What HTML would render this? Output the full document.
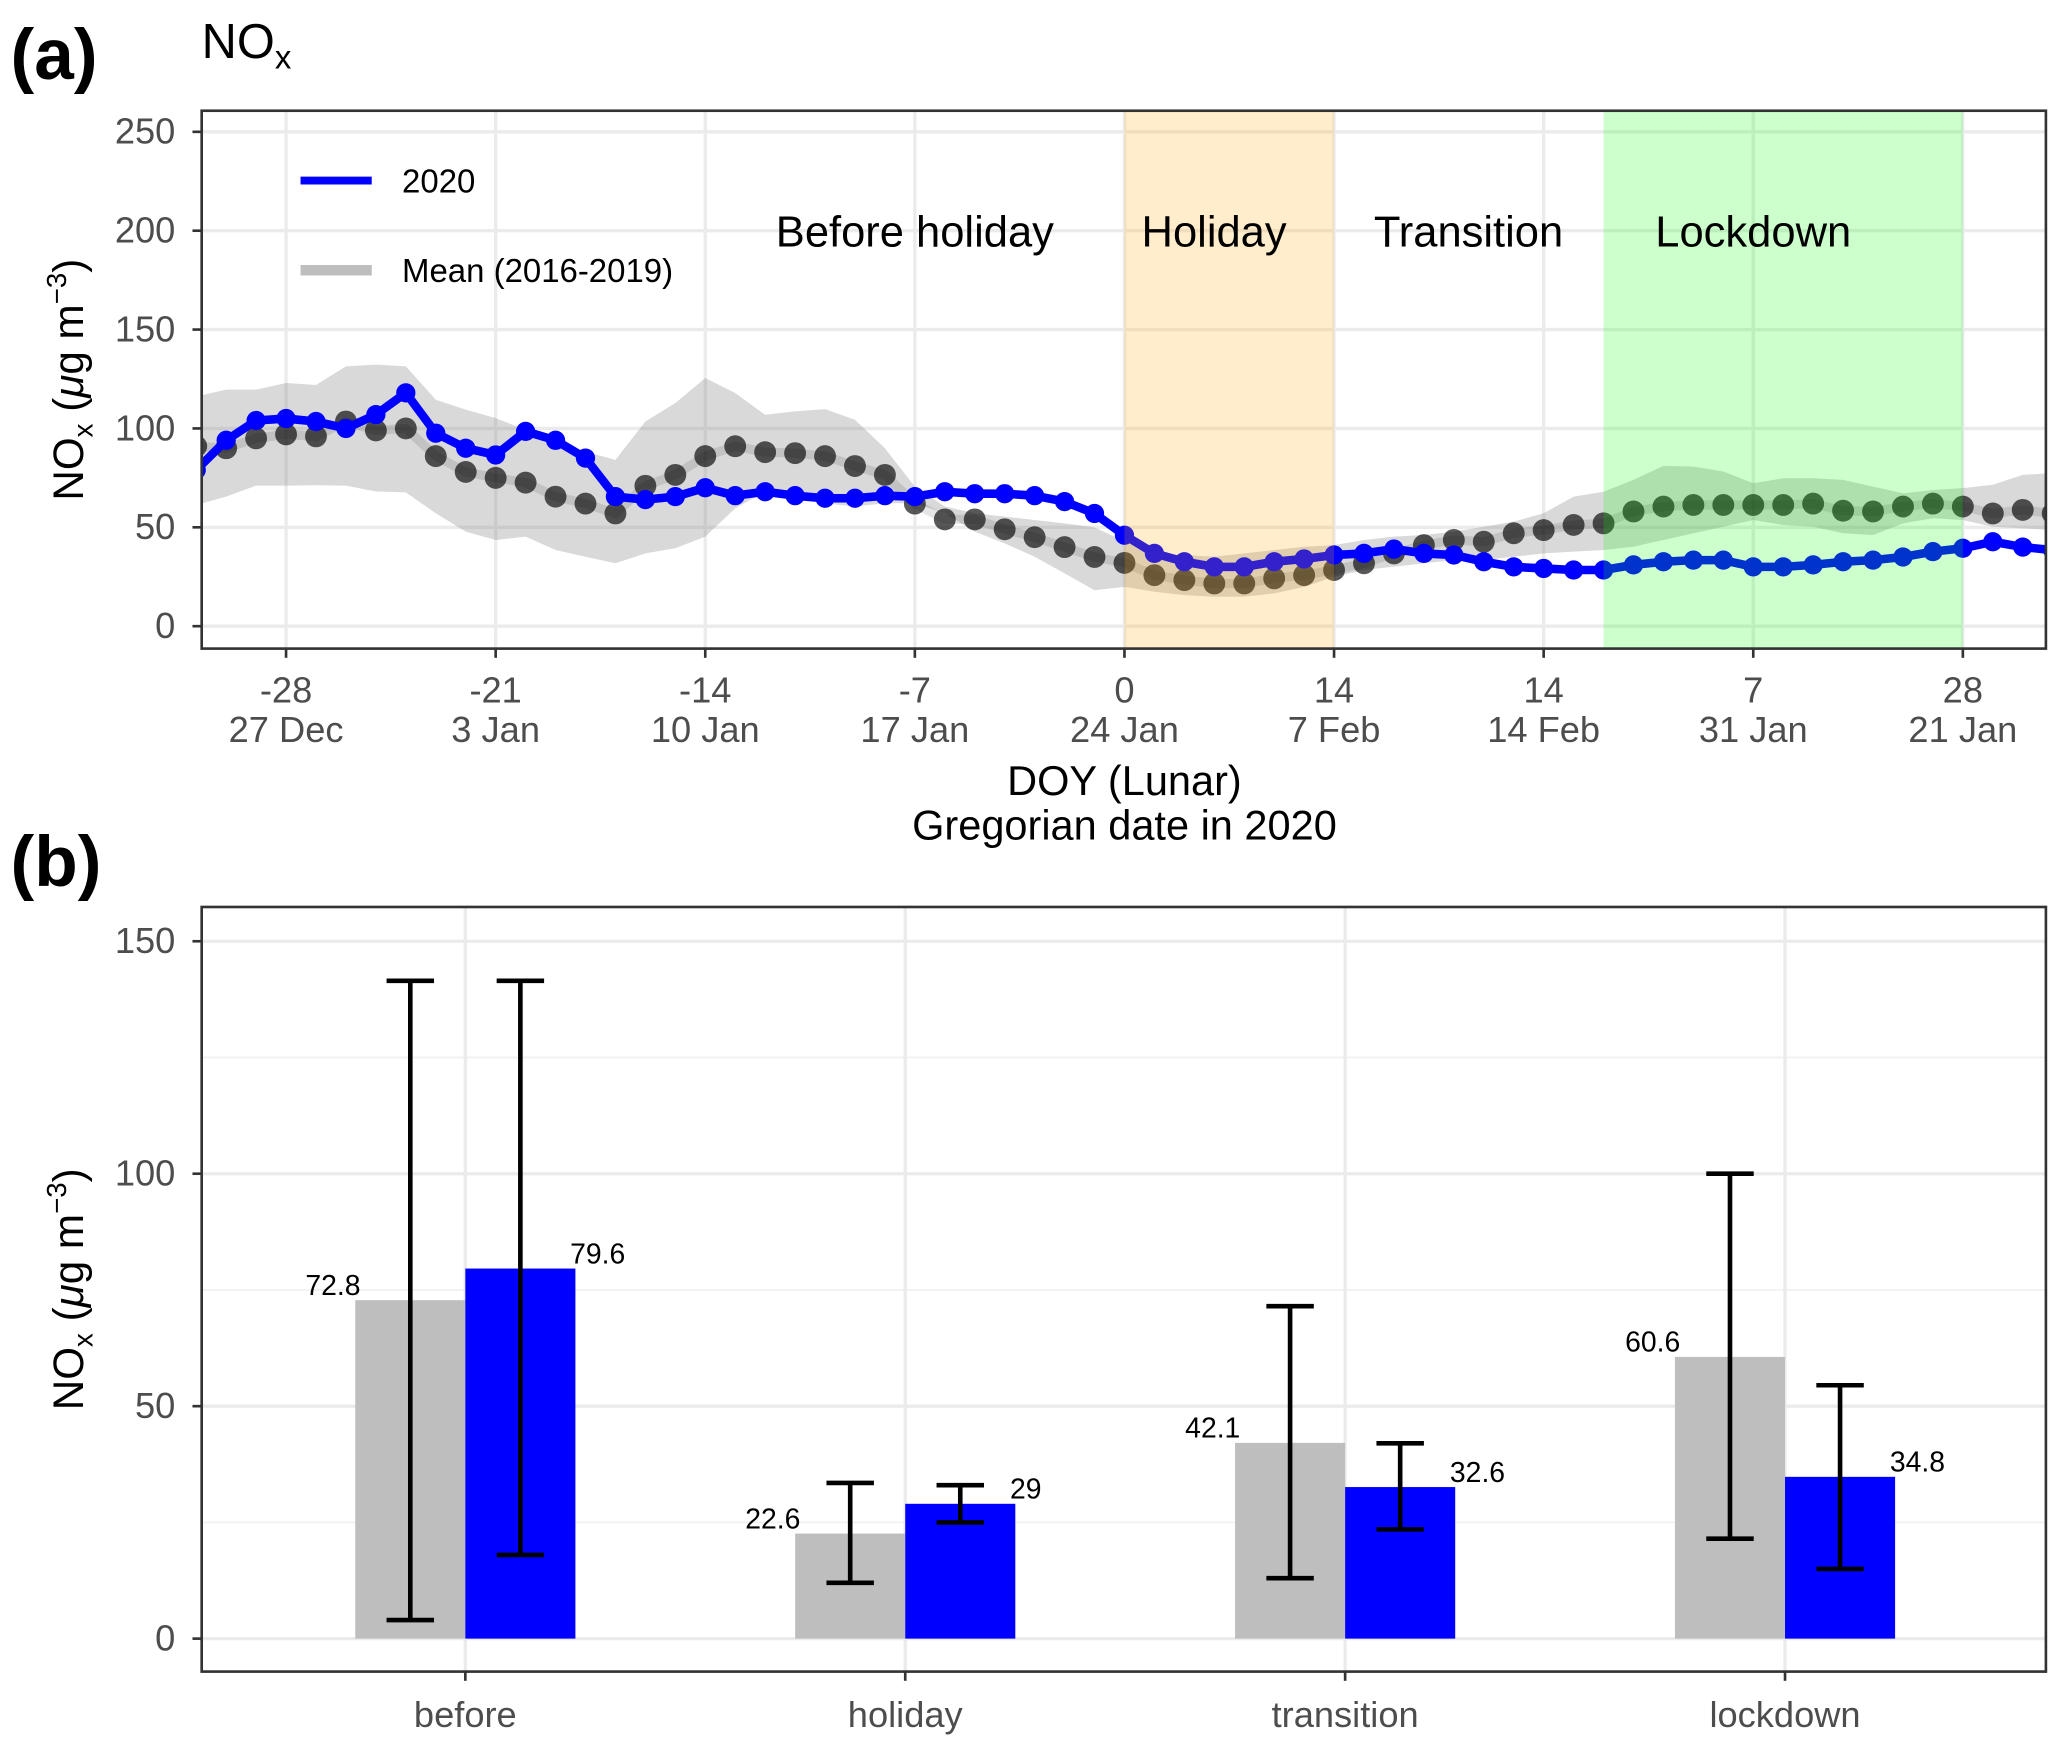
<!DOCTYPE html>
<html><head><meta charset="utf-8"><style>
html,body{margin:0;padding:0;background:#fff}
svg{display:block;font-family:"Liberation Sans",sans-serif}
</style></head><body>
<svg id="fig" width="2067" height="1752" viewBox="0 0 1568 1329" preserveAspectRatio="none" xmlns="http://www.w3.org/2000/svg">
<g id="pa"></g>
<g id="pb"></g>
</svg>
<script>
// ---- Panel A data ----
const days = [];
for (let d = -31; d <= 31; d++) days.push(d);
const meanVals = [91,90,95,97,96,103.5,99,100,86,78,75,72.6,65.5,62,57,71,76.5,86,91,88,87.5,86,81,76.5,62,54,54,49,45,40,35,32,
 25.8,23.3,21.6,21.6,24.2,25.8,28.4,31.8,36.8,41,43.6,42.7,47,48.6,51.2,52,58,60.5,61.3,61.3,61.3,61.3,62,58.4,58,60.5,62,60.5,57,58.8,57];
const ribbonUpper = [116.2,119.6,119.6,123,122,131.4,132.3,131.4,114.5,109.5,105.2,99.3,92.6,88.3,84.1,103.5,112.8,125.5,117.9,106.9,108.6,109.8,104.4,90,70.6,60.5,57.1,55.4,53.7,52,50,43,
 36.8,36,35.1,36.8,38.5,40.2,41,43.6,45.3,46.1,47.8,50.3,52.9,57.1,65.5,68,74,81.1,80.7,78.2,72.3,74.8,74.8,74,70.6,67.2,68.9,69.8,71.5,76.5,77.4];
const ribbonLower = [61.3,65.5,71.1,71.1,71.3,71.1,68.1,67.7,57.1,47.8,43.6,45.3,38.5,35.1,31.8,36.8,39.4,45.3,59.6,68.1,63.9,62.2,60.5,62.2,62.2,57.1,47.8,41.9,35.1,26.7,18.2,19.9,
 17.4,15.7,14.9,14.9,16.6,19.9,25,28.4,30.1,31.8,33.4,33.4,35.1,36.8,37.7,38.5,40.2,43.6,47,50.3,53.7,51.2,50.3,47,46.1,52,54.6,53.7,50.3,49.5,48.6];
const vals2020 = [79,94,104,105,103.5,100,107,118,97.6,90,86.6,98.5,94,85,65.5,64,65.5,70,66,68,66,64.7,64.7,66,65.5,68,67,67,66,63,57,46,
 36.8,32.6,30,30,32.6,34,36,36.8,39,36.8,36,32.6,30,29.2,28.4,28.4,31,32.6,33.4,33.4,30,30,31,32.6,33.4,35,37.7,39.4,42.7,40,38.5];
const xTickDays = [-28,-21,-14,-7,0,7,14,21,28];
const xTickLunar = ["-28","-21","-14","-7","0","14","14","7","28"];
const xTickGreg = ["27 Dec","3 Jan","10 Jan","17 Jan","24 Jan","7 Feb","14 Feb","31 Jan","21 Jan"];
const yTicksA = [0,50,100,150,200,250];
const periods = ["Before holiday","Holiday","Transition","Lockdown"];
const holidayRange = [0,7];
const lockdownRange = [16,28];

// ---- Panel B data ----
const cats = ["before","holiday","transition","lockdown"];
const meanBar = [72.8,22.6,42.1,60.6];
const meanLo = [4,12,13,21.5];
const meanHi = [141.5,33.5,71.5,100];
const bar2020 = [79.6,29,32.6,34.8];
const lo2020 = [18,25,23.5,15];
const hi2020 = [141.5,33,42,54.5];
const yTicksB = [0,50,100,150];

const NS = "http://www.w3.org/2000/svg";
const TF = 27.5;
function mk(parent, tag, attrs, text){
  const e = document.createElementNS(NS, tag);
  for (const k in attrs) e.setAttribute(k, attrs[k]);
  if (text !== undefined) e.textContent = text;
  parent.appendChild(e); return e;
}
const A = {l:153, r:1552, t:84, b:492};
const xA = d => 853 + d * (636/28);
const yA = v => 475 - v * 1.5;
const pa = document.getElementById('pa');

let bg = mk(pa,'rect',{x:A.l,y:A.t,width:A.r-A.l,height:A.b-A.t,fill:'#fff'});


yTicksA.forEach(v=>{
  const g = mk(pa,'line',{x1:A.l,x2:A.r,y1:yA(v),y2:yA(v),stroke:'#ebebeb','stroke-width':2.5});
  
  
  const t = mk(pa,'text',{x:A.l-20,y:yA(v)+9,'text-anchor':'end','font-size':TF,fill:'#4d4d4d'},String(v));
  
  
  mk(pa,'line',{x1:A.l-7,x2:A.l,y1:yA(v),y2:yA(v),stroke:'#333','stroke-width':2});
});
xTickDays.forEach((d,i)=>{
  const g = mk(pa,'line',{x1:xA(d),x2:xA(d),y1:A.t,y2:A.b,stroke:'#ebebeb','stroke-width':2.5});
  
  
  mk(pa,'line',{x1:xA(d),x2:xA(d),y1:A.b,y2:A.b+7,stroke:'#333','stroke-width':2});
  const t1 = mk(pa,'text',{x:xA(d),y:533,'text-anchor':'middle','font-size':TF,fill:'#4d4d4d'},xTickLunar[i]);
  
  
  const t2 = mk(pa,'text',{x:xA(d),y:563,'text-anchor':'middle','font-size':TF,fill:'#4d4d4d'},xTickGreg[i]);
  
  
});
const defs = mk(pa,'defs',{});
const cp = mk(defs,'clipPath',{id:'clipA'});
mk(cp,'rect',{x:A.l,y:A.t,width:A.r-A.l,height:A.b-A.t});
const plot = mk(pa,'g',{'clip-path':'url(#clipA)'});
let rp = '';
days.forEach((d,i)=>{ rp += (i?'L':'M') + xA(d) + ',' + yA(ribbonUpper[i]); });
for (let i = days.length-1; i>=0; i--) rp += 'L' + xA(days[i]) + ',' + yA(ribbonLower[i]);
const rib = mk(plot,'path',{d:rp+'Z',fill:'#808080','fill-opacity':0.3});


const mline = mk(plot,'polyline',{points:days.map((d,i)=>xA(d)+','+yA(meanVals[i])).join(' '),fill:'none',stroke:'#000','stroke-opacity':0.1,'stroke-width':7});


days.forEach((d,i)=>{
  const c = mk(plot,'circle',{cx:xA(d),cy:yA(meanVals[i]),r:8.3,fill:'#000','fill-opacity':0.65});
  
  
});
const bline = mk(plot,'polyline',{points:days.map((d,i)=>xA(d)+','+yA(vals2020[i])).join(' '),fill:'none',stroke:'#0000ff','stroke-width':6.5,'stroke-linejoin':'round'});


days.forEach((d,i)=>{
  const c = mk(plot,'circle',{cx:xA(d),cy:yA(vals2020[i]),r:7.3,fill:'#0000ff'});
  
  
});
const hb = mk(plot,'rect',{x:xA(holidayRange[0]),y:A.t,width:xA(holidayRange[1])-xA(holidayRange[0]),height:A.b-A.t,fill:'#ffa500','fill-opacity':0.2});


const lb = mk(plot,'rect',{x:xA(lockdownRange[0]),y:A.t,width:xA(lockdownRange[1])-xA(lockdownRange[0]),height:A.b-A.t,fill:'#00ff00','fill-opacity':0.2});


const pX = [694,921,1114,1330];
periods.forEach((p,i)=>{
  const t = mk(pa,'text',{x:pX[i],y:187,'text-anchor':'middle','font-size':33,fill:'#000'},p);
  
  
});
const lg = mk(pa,'g',{});


mk(lg,'line',{x1:228,x2:282,y1:137,y2:137,stroke:'#0000ff','stroke-width':6});
mk(lg,'text',{x:305,y:146,'font-size':25,fill:'#000'},'2020');
mk(lg,'line',{x1:228,x2:282,y1:205,y2:205,stroke:'#bebebe','stroke-width':8});
mk(lg,'text',{x:305,y:214,'font-size':25,fill:'#000'},'Mean (2016-2019)');
const frA = mk(pa,'rect',{x:A.l,y:A.t,width:A.r-A.l,height:A.b-A.t,fill:'none',stroke:'#333','stroke-width':2});



// ---- Panel B ----
const B = {l:153, r:1552, t:688, b:1268};
const yB = v => 1243 - v * (529/150);
const catX = i => 353 + i * 333.7;
const pb = document.getElementById('pb');
[25,75,125].forEach(v=>{
  mk(pb,'line',{x1:B.l,x2:B.r,y1:yB(v),y2:yB(v),stroke:'#f2f2f2','stroke-width':1.5});
});
yTicksB.forEach(v=>{
  const g = mk(pb,'line',{x1:B.l,x2:B.r,y1:yB(v),y2:yB(v),stroke:'#ebebeb','stroke-width':2.5});
  
  
  mk(pb,'line',{x1:B.l-7,x2:B.l,y1:yB(v),y2:yB(v),stroke:'#333','stroke-width':2});
  const t = mk(pb,'text',{x:B.l-20,y:yB(v)+9,'text-anchor':'end','font-size':TF,fill:'#4d4d4d'},String(v));
  
  
});
cats.forEach((c,i)=>{
  const cx = catX(i);
  const g = mk(pb,'line',{x1:cx,x2:cx,y1:B.t,y2:B.b,stroke:'#ebebeb','stroke-width':2.5});
  
  
  mk(pb,'line',{x1:cx,x2:cx,y1:B.b,y2:B.b+7,stroke:'#333','stroke-width':2});
  const t = mk(pb,'text',{x:cx,y:1310,'text-anchor':'middle','font-size':TF,fill:'#4d4d4d'},c);
  
  
  const w = 83.5;
  const b1 = mk(pb,'rect',{x:cx-w,y:yB(meanBar[i]),width:w,height:yB(0)-yB(meanBar[i]),fill:'#bebebe'});
  
  
  const b2 = mk(pb,'rect',{x:cx,y:yB(bar2020[i]),width:w,height:yB(0)-yB(bar2020[i]),fill:'#0000ff'});
  
  
  [[cx-w/2,meanLo[i],meanHi[i]],[cx+w/2,lo2020[i],hi2020[i]]].forEach(e=>{
    const eg = mk(pb,'path',{d:`M${e[0]-18},${yB(e[2])}H${e[0]+18}M${e[0]},${yB(e[2])}V${yB(e[1])}M${e[0]-18},${yB(e[1])}H${e[0]+18}`,stroke:'#000','stroke-width':3.5,fill:'none'});
    
    
  });
  const l1 = mk(pb,'text',{x:cx-w+4,y:yB(meanBar[i])-4,'text-anchor':'end','font-size':21.5,fill:'#000'},String(meanBar[i]));
  
  
  const l2 = mk(pb,'text',{x:cx+w-4,y:yB(bar2020[i])-4,'text-anchor':'start','font-size':21.5,fill:'#000'},String(bar2020[i]));
  
  
});
const frB = mk(pb,'rect',{x:B.l,y:B.t,width:B.r-B.l,height:B.b-B.t,fill:'none',stroke:'#333','stroke-width':2});


</script>
<svg style="position:absolute;left:0;top:0" width="2067" height="1752" viewBox="0 0 1568 1329" preserveAspectRatio="none" xmlns="http://www.w3.org/2000/svg">
<g font-family="Liberation Sans, sans-serif">
<text x="8" y="60" font-size="54" font-weight="bold">(a)</text>
<text x="153" y="44" font-size="37">NO<tspan font-size="25" dy="8">x</tspan></text>
<text x="8" y="672" font-size="54" font-weight="bold">(b)</text>
<text x="853" y="603" font-size="31.5" text-anchor="middle">DOY (Lunar)</text>
<text x="853" y="637" font-size="31.5" text-anchor="middle">Gregorian date in 2020</text>
<text transform="translate(63,288) rotate(-90)" font-size="32" text-anchor="middle">NO<tspan font-size="21" dy="7">x</tspan><tspan dy="-7"> (</tspan><tspan font-style="italic">μ</tspan>g m<tspan font-size="21" dy="-13">−3</tspan><tspan dy="13">)</tspan></text>
<text transform="translate(63,978) rotate(-90)" font-size="32" text-anchor="middle">NO<tspan font-size="21" dy="7">x</tspan><tspan dy="-7"> (</tspan><tspan font-style="italic">μ</tspan>g m<tspan font-size="21" dy="-13">−3</tspan><tspan dy="13">)</tspan></text>
</g>
</svg>
</body></html>
